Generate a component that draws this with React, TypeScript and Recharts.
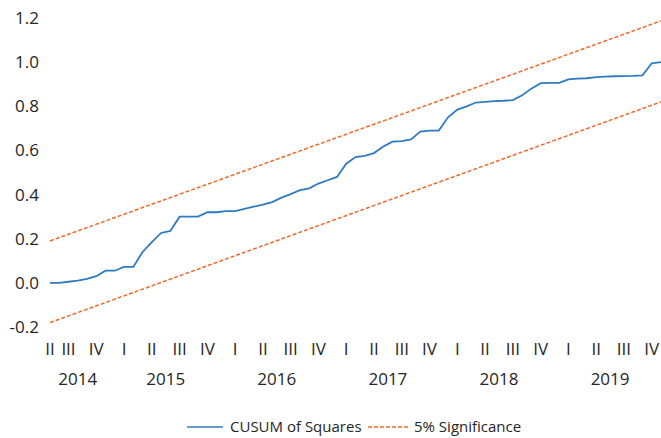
import type { JSX } from 'react'
import { LineChart, Line, XAxis, YAxis, Legend } from 'recharts'

// monthly CUSUM of squares, Jun 2014 .. Dec 2019 (67 points)
const cusum = [
  0.0, 0.0, 0.005, 0.01, 0.018, 0.03, 0.055, 0.055, 0.072, 0.072,
  0.14, 0.185, 0.226, 0.235, 0.3, 0.3, 0.3, 0.32, 0.32, 0.325,
  0.325, 0.335, 0.345, 0.355, 0.366, 0.386, 0.402, 0.42, 0.428, 0.45,
  0.465, 0.48, 0.54, 0.57, 0.575, 0.588, 0.618, 0.64, 0.642, 0.65,
  0.685, 0.69, 0.69, 0.75, 0.785, 0.8, 0.817, 0.82, 0.823, 0.825,
  0.828, 0.85, 0.88, 0.905, 0.906, 0.906, 0.922, 0.925, 0.927, 0.932,
  0.934, 0.936, 0.937, 0.938, 0.94, 0.995, 1.0,
]

// 5% significance bounds, read at first and last month
const upperBound = [
  { i: 0, v: 0.19 },
  { i: 66, v: 1.187 },
]
const lowerBound = [
  { i: 0, v: -0.18 },
  { i: 66, v: 0.82 },
]

// quarter labels sit on the middle month of each quarter
const quarterTicks = [0, 2, 5, 8, 11, 14, 17, 20, 23, 26, 29, 32, 35, 38, 41, 44, 47, 50, 53, 56, 59, 62, 65]
const quarterLabels = ['II', 'III', 'IV', 'I', 'II', 'III', 'IV', 'I', 'II', 'III', 'IV', 'I', 'II', 'III', 'IV', 'I', 'II', 'III', 'IV', 'I', 'II', 'III', 'IV']

const yearTicks = [3, 12.5, 24.5, 36.5, 48.5, 60.5]
const yearLabels = ['2014', '2015', '2016', '2017', '2018', '2019']

const yTicks = [-0.2, 0, 0.2, 0.4, 0.6, 0.8, 1.0, 1.2]

const BLUE = '#2E7BC4'
const ORANGE = '#EE6A2A'
const TEXT = '#262626'
const FONT = '"Open Sans", sans-serif'

const data = cusum.map((v, i) => ({ i, cusum: v }))

const tickStyle = { fill: TEXT, fontSize: 17, fontFamily: FONT }

const LegendBox = (): JSX.Element => (
  <div style={{ position: 'relative', height: 22, fontFamily: FONT, fontSize: 15, color: TEXT }}>
    <svg width={36} height={4} style={{ position: 'absolute', left: 187, top: 9 }}>
      <line x1={0} y1={2} x2={36} y2={2} stroke={BLUE} strokeWidth={1.5} />
    </svg>
    <span style={{ position: 'absolute', left: 230, top: 0, whiteSpace: 'nowrap' }}>CUSUM of Squares</span>
    <svg width={42} height={4} style={{ position: 'absolute', left: 368, top: 9 }}>
      <line x1={0} y1={2} x2={42} y2={2} stroke={ORANGE} strokeWidth={1.5} strokeDasharray="4 2" />
    </svg>
    <span style={{ position: 'absolute', left: 414, top: 0, whiteSpace: 'nowrap' }}>5% Significance</span>
  </div>
)

export default function App(): JSX.Element {
  return (
    <div style={{ position: 'absolute', left: 0, top: 0, background: '#fff' }}>
      <LineChart
        width={661}
        height={438}
        data={data}
        margin={{ top: 18, right: 0, bottom: 0, left: 0 }}
      >
        <XAxis
          dataKey="i"
          type="number"
          domain={[0, 66]}
          ticks={quarterTicks}
          interval={0}
          tickFormatter={(v: number) => quarterLabels[quarterTicks.indexOf(v)] ?? ''}
          axisLine={false}
          tickLine={false}
          tickSize={0}
          tickMargin={16}
          height={30}
          tick={tickStyle}
        />
        <XAxis
          xAxisId="year"
          dataKey="i"
          type="number"
          domain={[0, 66]}
          ticks={yearTicks}
          interval={0}
          tickFormatter={(v: number) => yearLabels[yearTicks.indexOf(v)] ?? ''}
          axisLine={false}
          tickLine={false}
          tickSize={0}
          tickMargin={16}
          height={59}
          tick={tickStyle}
        />
        <YAxis
          type="number"
          domain={[-0.2, 1.2]}
          ticks={yTicks}
          interval={0}
          tickFormatter={(v: number) => v.toFixed(1)}
          axisLine={false}
          tickLine={false}
          tickSize={0}
          tickMargin={11}
          width={50}
          tick={tickStyle}
        />
        <Legend verticalAlign="bottom" height={22} content={() => <LegendBox />} />
        <Line
          data={upperBound}
          dataKey="v"
          type="linear"
          stroke={ORANGE}
          strokeWidth={1.5}
          strokeDasharray="4 2"
          dot={false}
          activeDot={false}
          isAnimationActive={false}
          name="5% Significance"
        />
        <Line
          data={lowerBound}
          dataKey="v"
          type="linear"
          stroke={ORANGE}
          strokeWidth={1.5}
          strokeDasharray="4 2"
          dot={false}
          activeDot={false}
          isAnimationActive={false}
          legendType="none"
        />
        <Line
          dataKey="cusum"
          type="linear"
          stroke={BLUE}
          strokeWidth={1.8}
          dot={false}
          activeDot={false}
          isAnimationActive={false}
          name="CUSUM of Squares"
        />
      </LineChart>
    </div>
  )
}
